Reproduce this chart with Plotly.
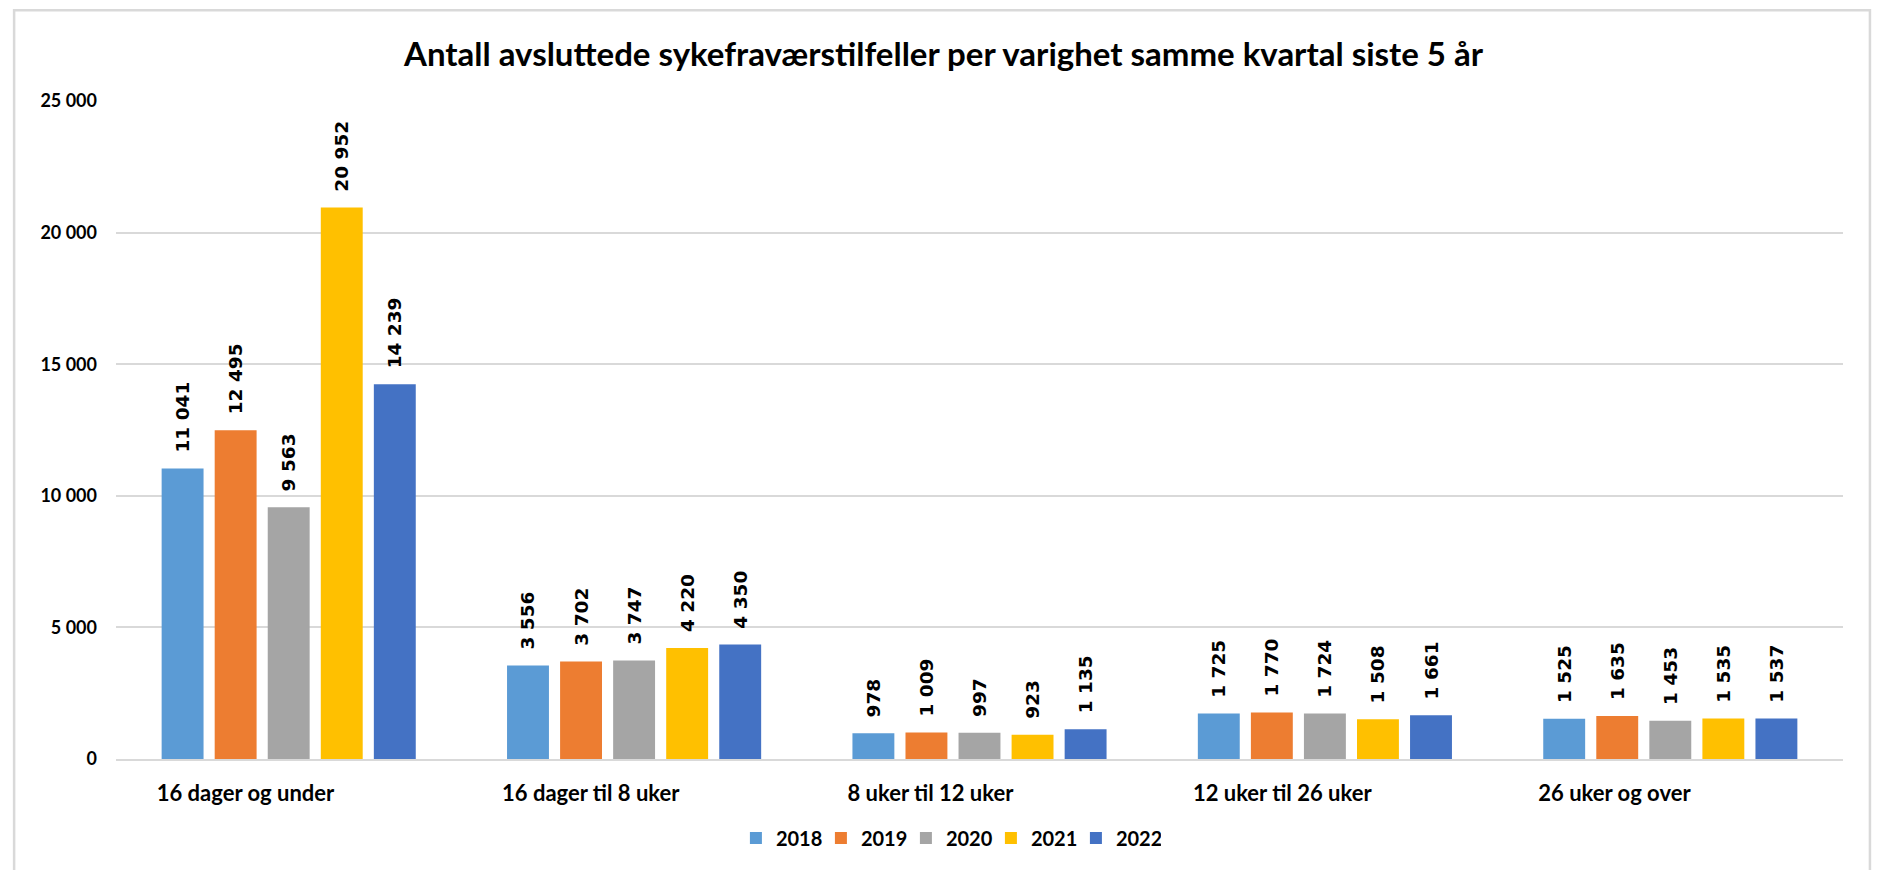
import plotly.graph_objects as go

categories = ["16 dager og under", "16 dager til 8 uker", "8 uker til 12 uker",
              "12 uker til 26 uker", "26 uker og over"]
years = ["2018", "2019", "2020", "2021", "2022"]
values = {
    "2018": [11041, 3556, 978, 1725, 1525],
    "2019": [12495, 3702, 1009, 1770, 1635],
    "2020": [9563, 3747, 997, 1724, 1453],
    "2021": [20952, 4220, 923, 1508, 1535],
    "2022": [14239, 4350, 1135, 1661, 1537],
}
colors = {"2018": "#5B9BD5", "2019": "#ED7D31", "2020": "#A5A5A5",
          "2021": "#FFC000", "2022": "#4472C4"}
y_ticks = [0, 5000, 10000, 15000, 20000, 25000]
title = "Antall avsluttede sykefraværstilfeller per varighet samme kvartal siste 5 år"

FONT = "Lato"

fig = go.Figure()
for yr in years:
    fig.add_trace(go.Bar(
        name=yr, x=categories, y=values[yr],
        marker=dict(color=colors[yr], line=dict(width=0)),
        texttemplate="\u00a0\u00a0%{y:,}",
        textposition="outside", textangle=-90, constraintext="none",
        cliponaxis=False,
        textfont=dict(family="DejaVu Sans", size=18.5, color="#000000", weight=700),
        hoverinfo="skip",
    ))

fig.update_layout(
    width=1873, height=862,
    separators=", ",
    paper_bgcolor="white", plot_bgcolor="white",
    margin=dict(l=108, r=38, t=93, b=111),
    barmode="group", bargap=0.232, bargroupgap=0.21,
    title=dict(text=title, x=0.4995, xanchor="center", y=0.9466, yanchor="middle",
               xref="container", yref="container",
               font=dict(family=FONT, size=33, color="#000000", weight=700)),
    legend=dict(orientation="h", x=0.482, xanchor="center", y=-0.12, yanchor="middle",
                font=dict(family=FONT, size=20, color="#000000", weight=700),
                entrywidth=40, entrywidthmode="pixels", itemclick=False),
    showlegend=True,
    font=dict(family=FONT, color="#000000"),
)

fig.update_yaxes(
    range=[0, 25000], tickvals=y_ticks, tickformat=",d",
    showgrid=True, gridcolor="#d9d9d9", gridwidth=1.5,
    zeroline=False, showline=False, ticks="",
    ticklabelstandoff=18,
    tickfont=dict(family=FONT, size=18, color="#000000", weight=700),
)
fig.update_xaxes(
    showgrid=False, showline=True, linecolor="#d9d9d9", linewidth=2,
    ticks="", ticklabelposition="outside right", ticklabelshift=-133,
    ticklabelstandoff=14,
    tickfont=dict(family=FONT, size=22, color="#000000", weight=700),
)

# chart frame
fig.add_shape(type="rect", xref="paper", yref="paper",
              x0=-0.059, x1=1.0156, y0=-0.25, y1=1.138,
              line=dict(color="#d9d9d9", width=2.5), fillcolor="rgba(0,0,0,0)",
              layer="below")

fig.write_html("out.html")
